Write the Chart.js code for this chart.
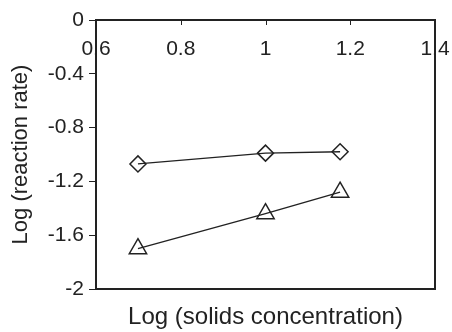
<!DOCTYPE html>
<html>
<head>
<meta charset="utf-8">
<script src="https://cdn.jsdelivr.net/npm/chart.js@4.4.1/dist/chart.umd.min.js"></script>
<style>
  body { margin: 0; background: #fff; }
  #wrap { width: 452px; height: 332px; }
</style>
</head>
<body>
<div id="wrap"><canvas id="myChart" width="452" height="332"></canvas></div>
<script>
// data
var xLog = [0.699, 1.0, 1.176];
var diamondSeries = [-1.07, -0.99, -0.98];
var triangleSeries = [-1.70, -1.44, -1.28];

var xTicks = [0.6, 0.8, 1, 1.2, 1.4];
var xTickLabels = ["0.6", "0.8", "1", "1.2", "1.4"];
var yTicks = [-2, -1.6, -1.2, -0.8, -0.4, 0];
var yTickLabels = ["-2", "-1.6", "-1.2", "-0.8", "-0.4", "0"];

var ink = "#222";
Chart.defaults.font.family = "'Liberation Sans', Arial, Helvetica, sans-serif";
Chart.defaults.color = ink;

function toPoints(xs, ys) {
    return xs.map(function (x, i) { return { x: x, y: ys[i] }; });
}

// top axis (labels sit inside the box) + right side of the frame
var frameBox = {
    id: "frameBox",
    afterDraw: function (chart) {
        var ctx = chart.ctx;
        var area = chart.chartArea;
        var xs = chart.scales.x;
        ctx.save();
        ctx.fillStyle = ink;
        ctx.font = "21px 'Liberation Sans', Arial, sans-serif";
        ctx.textAlign = "center";
        ctx.textBaseline = "alphabetic";
        for (var i = 0; i < xTicks.length; i++) {
            var px = xs.getPixelForValue(xTicks[i]);
            ctx.fillText(xTickLabels[i], px, area.top + 35);
        }
        ctx.strokeStyle = ink;
        ctx.lineWidth = 1;
        ctx.beginPath();
        for (var j = 0; j < xTicks.length; j++) {
            var tx = Math.round(xs.getPixelForValue(xTicks[j])) + 0.5;
            ctx.moveTo(tx, area.top);
            ctx.lineTo(tx, area.top + 5);
        }
        ctx.stroke();
        ctx.lineWidth = 2;
        ctx.beginPath();
        ctx.moveTo(area.left, area.top);
        ctx.lineTo(area.right, area.top);
        ctx.lineTo(area.right, area.bottom);
        ctx.moveTo(area.left, area.top);
        ctx.lineTo(area.left, area.bottom);
        ctx.stroke();
        ctx.restore();
    }
};

new Chart(document.getElementById("myChart"), {
    type: "line",
    data: {
        datasets: [
            {
                label: "diamond",
                data: toPoints(xLog, diamondSeries),
                borderColor: ink,
                borderWidth: 1.4,
                pointStyle: "rectRot",
                pointRadius: 8,
                pointBorderWidth: 1.5,
                pointBorderColor: ink,
                pointBackgroundColor: "rgba(0,0,0,0)",
                tension: 0
            },
            {
                label: "triangle",
                data: toPoints(xLog, triangleSeries),
                borderColor: ink,
                borderWidth: 1.4,
                pointStyle: "triangle",
                pointRadius: 10,
                pointBorderWidth: 1.5,
                pointBorderColor: ink,
                pointBackgroundColor: "rgba(0,0,0,0)",
                tension: 0
            }
        ]
    },
    options: {
        responsive: false,
        animation: false,
        layout: { padding: { top: 20, right: 17, left: 0, bottom: 0 } },
        plugins: {
            legend: { display: false },
            tooltip: { enabled: false }
        },
        scales: {
            x: {
                type: "linear",
                position: "bottom",
                min: 0.6,
                max: 1.4,
                ticks: { display: false },
                grid: { drawOnChartArea: false, drawTicks: false },
                border: { display: true, color: ink, width: 2 },
                title: {
                    display: true,
                    text: "Log (solids concentration)",
                    font: { size: 24 },
                    color: ink,
                    padding: { top: 0, bottom: 0 }
                },
                afterFit: function (scale) { scale.height = 43; }
            },
            y: {
                type: "linear",
                position: "left",
                min: -2,
                max: 0,
                afterBuildTicks: function (scale) {
                    scale.ticks = yTicks.map(function (v) { return { value: v }; });
                },
                ticks: {
                    font: { size: 21 },
                    color: ink,
                    padding: 5,
                    callback: function (value) {
                        return yTickLabels[yTicks.indexOf(value)];
                    }
                },
                grid: {
                    drawOnChartArea: false,
                    drawTicks: true,
                    tickLength: 7,
                    color: ink,
                    lineWidth: 1
                },
                border: { display: true, color: ink, width: 2 },
                title: {
                    display: true,
                    text: "Log (reaction rate)",
                    font: { size: 22 },
                    color: ink,
                    padding: { top: 8, bottom: 0 }
                },
                afterFit: function (scale) { scale.width = 96; }
            }
        }
    },
    plugins: [frameBox]
});
</script>
</body>
</html>
